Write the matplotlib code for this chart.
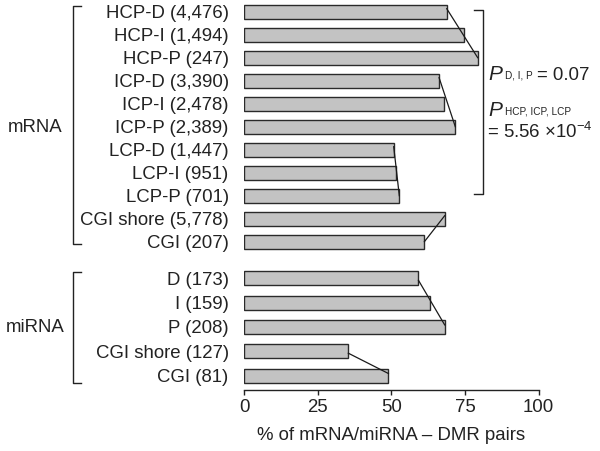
import matplotlib
matplotlib.use("Agg")
import matplotlib.pyplot as plt
from matplotlib.transforms import blended_transform_factory

plt.rcParams["font.family"] = ["Liberation Sans", "DejaVu Sans"]
plt.rcParams["mathtext.fontset"] = "custom"
plt.rcParams["mathtext.rm"] = "Liberation Sans"
plt.rcParams["mathtext.it"] = "Liberation Sans:italic"

mrna_labels = ["HCP-D (4,476)", "HCP-I (1,494)", "HCP-P (247)",
               "ICP-D (3,390)", "ICP-I (2,478)", "ICP-P (2,389)",
               "LCP-D (1,447)", "LCP-I (951)", "LCP-P (701)",
               "CGI shore (5,778)", "CGI (207)"]
mrna_values = [68.8, 74.6, 79.3, 66.2, 68.0, 71.7, 50.8, 51.7, 52.7, 68.1, 61.2]

mirna_labels = ["D (173)", "I (159)", "P (208)", "CGI shore (127)", "CGI (81)"]
mirna_values = [59.2, 63.1, 68.1, 35.4, 49.0]

# groups joined by a line (first bar, last bar)
mrna_links = [(0, 2), (3, 5), (6, 8), (9, 10)]
mirna_links = [(0, 2), (3, 4)]

xticks = [0, 25, 50, 75, 100]

# y positions in pixel-like units (top = 0)
mrna_y = [11.7 + 23.0 * i for i in range(len(mrna_values))]
mirna_y = [278.3 + 24.3 * i for i in range(len(mirna_values))]

fig = plt.figure(figsize=(6.0, 4.51), dpi=100)
ax = fig.add_axes([244 / 600, 1 - 390 / 451, 294.7 / 600, 390 / 451])

bar_h = 14
fc = "#c3c3c3"
ec = "#2a2a2a"
ax.barh(mrna_y, mrna_values, height=bar_h, color=fc, edgecolor=ec, linewidth=1.0)
ax.barh(mirna_y, mirna_values, height=bar_h, color=fc, edgecolor=ec, linewidth=1.0)

for a, b in mrna_links:
    ax.plot([mrna_values[a], mrna_values[b]], [mrna_y[a] - 3, mrna_y[b]],
            color="#1a1a1a", lw=0.9, clip_on=False)
for a, b in mirna_links:
    ax.plot([mirna_values[a], mirna_values[b]], [mirna_y[a] + 2, mirna_y[b] - 2],
            color="#1a1a1a", lw=0.9, clip_on=False)

ax.set_xlim(0, 100)
ax.set_ylim(390, 0)
ax.set_yticks(mrna_y + mirna_y)
ax.set_yticklabels(mrna_labels + mirna_labels, fontsize=13.4, color="#222222")
ax.tick_params(axis="y", length=0, pad=11)
ax.set_xticks(xticks)
ax.set_xticklabels([str(t) for t in xticks], fontsize=13.4, color="#222222")
ax.tick_params(axis="x", length=3.5, width=1, pad=3, color="#222222")
ax.set_xlabel("% of mRNA/miRNA \u2013 DMR pairs", fontsize=13.4, color="#222222", labelpad=8)

for s in ["left", "right", "top"]:
    ax.spines[s].set_visible(False)
ax.spines["bottom"].set_color("#222222")
ax.spines["bottom"].set_linewidth(1.0)

# brackets, x in figure pixels, y in data units
tr = blended_transform_factory(fig.transFigure, ax.transData)
def fx(px):
    return px / 600

def bracket(x0, x1, y0, y1):
    ax.plot([fx(x1), fx(x0), fx(x0), fx(x1)], [y0, y0, y1, y1],
            transform=tr, color="#222222", lw=1.0, clip_on=False)

bracket(72.7, 81, 5.7, 244.3)
bracket(72.7, 81, 272.3, 383.3)
bracket(482.7, 474, 10, 194.3)

ax.text(fx(35), 128, "mRNA", transform=tr, fontsize=13.4, ha="center", va="center", color="#222222")
ax.text(fx(35), 328, "miRNA", transform=tr, fontsize=13.4, ha="center", va="center", color="#222222")

ax.text(fx(488), 75, "P", transform=tr, fontsize=15, style="italic", ha="left", va="center", color="#222222")
ax.text(fx(505), 76, "D, I, P", transform=tr, fontsize=7.2, ha="left", va="center", color="#222222")
ax.text(fx(537), 75, "= 0.07", transform=tr, fontsize=13.4, ha="left", va="center", color="#222222")
ax.text(fx(488), 111, "P", transform=tr, fontsize=15, style="italic", ha="left", va="center", color="#222222")
ax.text(fx(505), 112, "HCP, ICP, LCP", transform=tr, fontsize=7.2, ha="left", va="center", color="#222222")
ax.text(fx(487), 132, "= 5.56 \u00d710$^{-4}$", transform=tr, fontsize=13.4, ha="left", va="center", color="#222222")

fig.savefig("out.png", dpi=100)
